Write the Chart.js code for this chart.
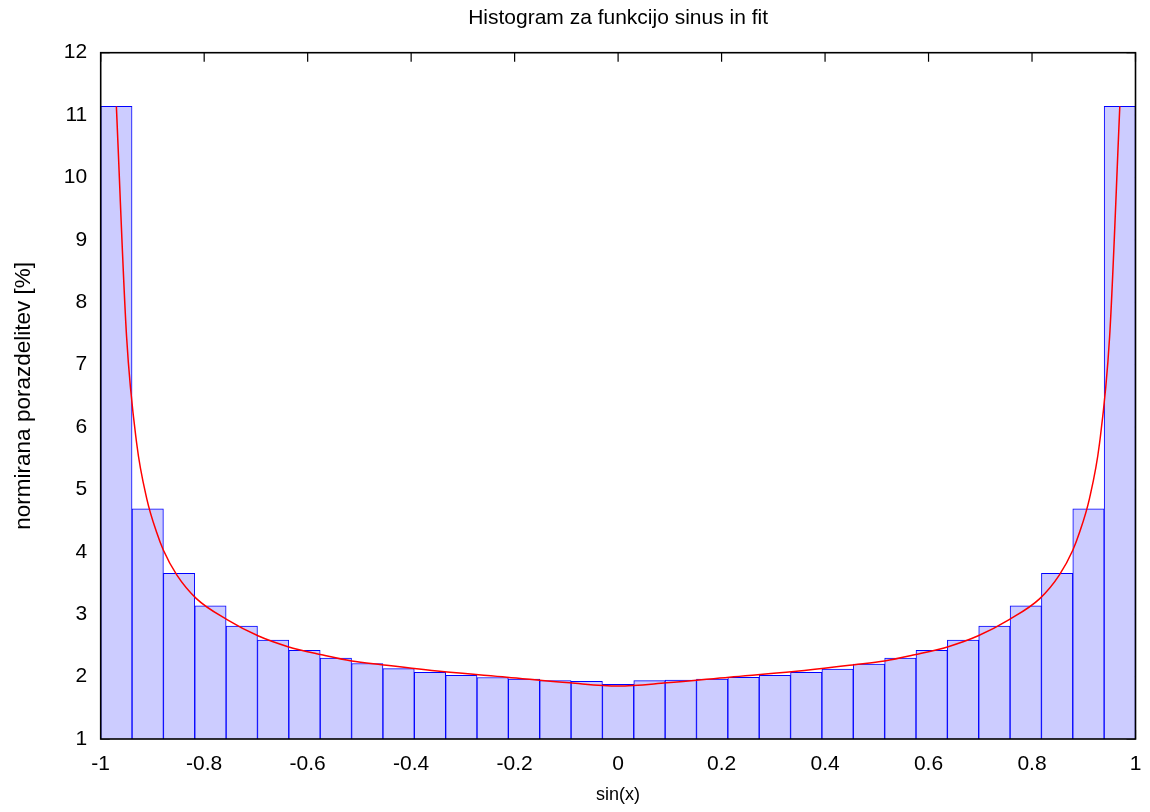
<!DOCTYPE html>
<html lang="sl">
<head>
<meta charset="UTF-8">
<title>Histogram za funkcijo sinus in fit</title>
<script src="https://cdn.jsdelivr.net/npm/chart.js"></script>
<style>
  body { margin: 0; background: #fff; }
  #wrap { width: 1150px; height: 812px; }
</style>
</head>
<body>
<div id="wrap"><canvas id="hist" width="1150" height="812"></canvas></div>
<script>
// bin centres of the 33 histogram bins on [-1, 1]
const binCenters = [-0.9697, -0.9091, -0.8485, -0.7879, -0.7273, -0.6667, -0.6061, -0.5455,
  -0.4848, -0.4242, -0.3636, -0.3030, -0.2424, -0.1818, -0.1212, -0.0606, 0,
  0.0606, 0.1212, 0.1818, 0.2424, 0.3030, 0.3636, 0.4242, 0.4848,
  0.5455, 0.6061, 0.6667, 0.7273, 0.7879, 0.8485, 0.9091, 0.9697];

// normirana porazdelitev [%]
const binValues = [11.14, 4.69, 3.656, 3.136, 2.811, 2.587, 2.421, 2.298,
  2.21, 2.127, 2.069, 2.021, 1.986, 1.959, 1.938, 1.925, 1.877,
  1.935, 1.946, 1.962, 1.989, 2.021, 2.069, 2.122, 2.20,
  2.298, 2.421, 2.587, 2.811, 3.136, 3.656, 4.69, 11.14];

// fit curve
const fitX = [-0.9697, -0.950, -0.9305, -0.9109, -0.8914, -0.879, -0.853, -0.815, -0.755,
  -0.695, -0.638, -0.573, -0.515, -0.457, -0.340, -0.215, -0.093, 0,
  0.093, 0.215, 0.340, 0.457, 0.515, 0.573, 0.638, 0.695,
  0.755, 0.815, 0.853, 0.879, 0.8914, 0.9109, 0.9305, 0.950, 0.9697];
const fitY = [11.14, 7.45, 5.74, 4.85, 4.30, 4.03, 3.63, 3.25, 2.91,
  2.65, 2.48, 2.35, 2.25, 2.19, 2.08, 1.99, 1.90, 1.85,
  1.90, 1.99, 2.08, 2.19, 2.25, 2.35, 2.48, 2.65,
  2.91, 3.25, 3.63, 4.03, 4.30, 4.85, 5.74, 7.45, 11.14];

const xTicks = [-1, -0.8, -0.6, -0.4, -0.2, 0, 0.2, 0.4, 0.6, 0.8, 1];
const yTicks = [1, 2, 3, 4, 5, 6, 7, 8, 9, 10, 11, 12];

const FONT = 'Liberation Sans, Arial, Helvetica, sans-serif';

// gnuplot-style frame with inward ticks on all four sides
const frame = {
  id: 'frame',
  beforeDatasetsDraw(chart) {
    const {ctx, chartArea: a, scales: {x, y}} = chart;
    ctx.save();
    ctx.strokeStyle = '#000';
    ctx.lineWidth = 1.2;
    ctx.beginPath();
    xTicks.forEach(v => {
      const px = x.getPixelForValue(v);
      ctx.moveTo(px, a.bottom); ctx.lineTo(px, a.bottom - 9);
      ctx.moveTo(px, a.top); ctx.lineTo(px, a.top + 9);
    });
    yTicks.forEach(v => {
      const py = y.getPixelForValue(v);
      ctx.moveTo(a.left, py); ctx.lineTo(a.left + 9, py);
      ctx.moveTo(a.right, py); ctx.lineTo(a.right - 9, py);
    });
    ctx.stroke();
    ctx.restore();
  },
  afterDatasetsDraw(chart) {
    const {ctx, chartArea: a} = chart;
    ctx.save();
    ctx.strokeStyle = '#000';
    ctx.lineWidth = 1.6;
    ctx.strokeRect(a.left, a.top, a.right - a.left, a.bottom - a.top);
    ctx.restore();
  }
};

new Chart(document.getElementById('hist'), {
  type: 'bar',
  data: {
    datasets: [{
      type: 'line',
      data: fitX.map((v, i) => ({x: v, y: fitY[i]})),
      borderColor: '#ff0000',
      borderWidth: 1.5,
      pointRadius: 0,
      cubicInterpolationMode: 'monotone',
      order: 0
    }, {
      data: binCenters.map((v, i) => ({x: v, y: binValues[i]})),
      backgroundColor: '#ccccff',
      borderColor: '#0000ff',
      borderWidth: 1,
      barPercentage: 1,
      categoryPercentage: 1,
      order: 1
    }]
  },
  options: {
    responsive: false,
    animation: false,
    layout: { padding: { right: 14.5, left: 0, bottom: 0, top: 0 } },
    plugins: {
      legend: { display: false },
      tooltip: { enabled: false },
      title: {
        display: true,
        fullSize: false,
        text: 'Histogram za funkcijo sinus in fit',
        color: '#000',
        font: { family: FONT, size: 21, weight: 'normal' },
        padding: { top: 5.4, bottom: 22.1 }
      }
    },
    scales: {
      x: {
        type: 'linear',
        min: -1,
        max: 1,
        offset: false,
        grid: { display: false, drawTicks: false },
        border: { display: false },
        afterBuildTicks: s => { s.ticks = xTicks.map(v => ({value: v})); },
        ticks: {
          color: '#000', padding: 12.4, maxRotation: 0,
          font: { family: FONT, size: 21 },
          callback: v => String(+v.toFixed(1))
        },
        title: {
          display: true, text: 'sin(x)', color: '#000',
          font: { family: FONT, size: 18 }, padding: { top: 0, bottom: 6.2 }
        },
        afterFit: s => { s.height = 73; s.paddingLeft = 0; s.paddingRight = 0; }
      },
      y: {
        min: 1,
        max: 12,
        grid: { display: false, drawTicks: false },
        border: { display: false },
        afterBuildTicks: s => { s.ticks = yTicks.map(v => ({value: v})); },
        ticks: { color: '#000', padding: 13.5, font: { family: FONT, size: 21 } },
        title: {
          display: true, text: 'normirana porazdelitev [%]', color: '#000',
          font: { family: FONT, size: 22.5 }, padding: { top: 10.5, bottom: 0 }
        },
        afterFit: s => { s.width = 100.7; s.paddingTop = 0; s.paddingBottom = 0; }
      }
    }
  },
  plugins: [frame]
});
</script>
</body>
</html>
